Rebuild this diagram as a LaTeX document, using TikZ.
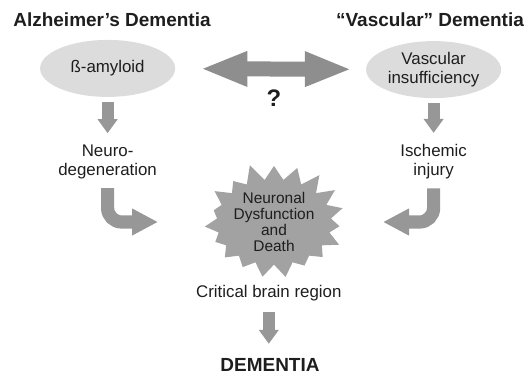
\documentclass[tikz,border=0pt]{standalone}
\usepackage{fontspec}
\setmainfont{Liberation Sans}
\usetikzlibrary{arrows.meta,shapes.geometric,shapes.symbols}
\definecolor{inkgray}{HTML}{1E1E1E}
\definecolor{ovalgray}{HTML}{DCDCDC}
\definecolor{arrowgray}{HTML}{979797}
\definecolor{linkgray}{HTML}{8E8E8E}
\definecolor{stargray}{HTML}{A2A2A2}
\tikzset{
  txt/.style={align=center, text=inkgray, inner sep=1pt, font=\fontsize{12}{13.6}\selectfont},
  ktitle/.style={txt, font=\fontsize{13.5}{16}\selectfont\bfseries},
  kmark/.style={txt, font=\fontsize{17}{20}\selectfont\bfseries},
  koval/.style={txt, ellipse, fill=ovalgray, minimum width=3.375cm, minimum height=1.425cm},
  kburst/.style={txt, starburst, fill=stargray, starburst points=19, starburst point height=0.45cm,
    random starburst=11, minimum width=3.45cm, minimum height=2.43cm, inner sep=0pt,
    font=\fontsize{11}{11.6}\selectfont},
  down/.style={draw=arrowgray, line width=0.3cm, -{Triangle[length=0.35cm, width=0.48cm]}},
  hook/.style={draw=arrowgray, line width=0.33cm, rounded corners=0.35cm,
    -{Triangle[length=0.65cm, width=0.63cm]}},
  link/.style={draw=linkgray, line width=0.375cm,
    {Triangle[length=1.175cm, width=0.8cm]}-{Triangle[length=1.175cm, width=0.8cm]}},
}

\begin{document}
\begin{tikzpicture}
    \useasboundingbox (0,0) rectangle (13.2,9.4);
    \node[ktitle] (adtitle) at (2.80,8.90) {Alzheimer's Dementia};
    \node[ktitle] (vdtitle) at (10.75,8.90) {“Vascular” Dementia};
    \node[koval] (amyloid) at (2.69,7.69) {ß-amyloid};
    \node[koval] (vascular) at (10.84,7.66) {Vascular\\insufficiency};
    \node[kmark] (query) at (6.85,6.95) {?};
    \node[txt] (neuro) at (2.69,5.35) {Neuro-\\degeneration};
    \node[txt] (ischemic) at (10.84,5.35) {Ischemic\\injury};
    \node[kburst] (death) at (6.85,3.85) {Neuronal\\Dysfunction\\and\\Death};
    \node[txt] (region) at (6.72,2.08) {Critical brain region};
    \node[ktitle] (dementia) at (6.75,0.27) {DEMENTIA};
    \draw[link, shorten <=0.625cm, shorten >=0.35cm] (amyloid) -- (vascular);
    \draw[down, shorten <=0.125cm, shorten >=0.25cm] (amyloid) -- (neuro);
    \draw[down, shorten <=0.125cm, shorten >=0.25cm] (vascular) -- (ischemic);
    \draw[hook, shorten <=0.18cm, shorten >=2.9cm] (neuro.south) |- (death.center);
    \draw[hook, shorten <=0.18cm, shorten >=2.725cm] (ischemic.south) |- (death.center);
    \draw[down, shorten <=0.25cm, shorten >=0.33cm] (region.south) -- (region.south |- dementia.north);
  \end{tikzpicture}
\end{document}
